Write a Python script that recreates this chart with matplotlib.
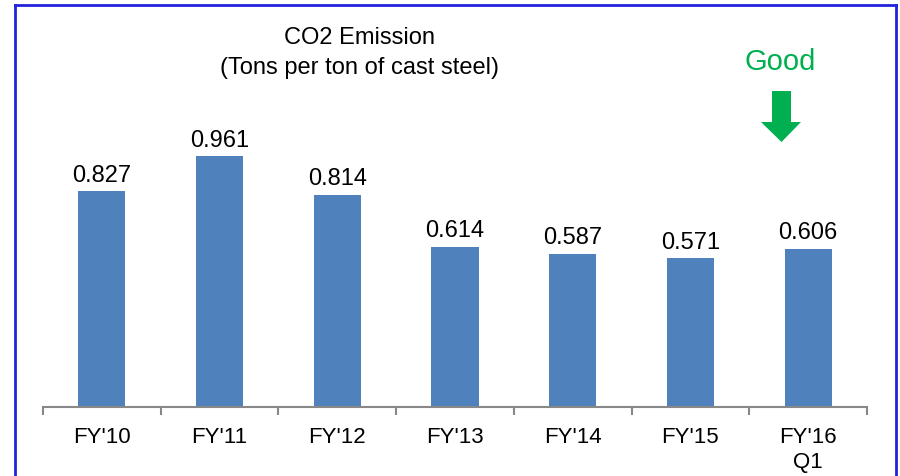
import matplotlib
matplotlib.use("Agg")
import matplotlib.pyplot as plt
from matplotlib.lines import Line2D
from matplotlib.patches import Polygon

# Data
categories = ["FY'10", "FY'11", "FY'12", "FY'13", "FY'14", "FY'15", "FY'16\nQ1"]
emission = [0.827, 0.961, 0.814, 0.614, 0.587, 0.571, 0.606]
value_labels = ["0.827", "0.961", "0.814", "0.614", "0.587", "0.571", "0.606"]

W, H = 900, 477
plt.rcParams['font.family'] = ['Liberation Sans', 'DejaVu Sans']


def px(x, y):
    # pixel position (from top-left) -> figure fraction
    return (x / W, 1 - y / H)


fig = plt.figure(figsize=(9, 4.77), dpi=100)
ax = fig.add_axes([43 / W, 1 - 408 / H, (867 - 43) / W, 313 / H])

x = list(range(len(categories)))
bars = ax.bar(x, emission, width=0.4, color='#4F81BD')
ax.set_xlim(-0.5, len(categories) - 0.5)
ax.set_ylim(0, 1.2)

for rect, lab in zip(bars, value_labels):
    ax.annotate(lab, (rect.get_x() + rect.get_width() / 2, rect.get_height()),
                xytext=(0, 4), textcoords='offset points',
                ha='center', va='bottom', fontsize=17)

ax.set_xticks(x)
ax.set_xticklabels(categories, fontsize=16, linespacing=1.25)
ax.set_xticks([i - 0.5 for i in range(len(categories) + 1)], minor=True)
ax.tick_params(axis='x', which='major', length=0, pad=14)
ax.tick_params(axis='x', which='minor', length=6, width=1.5, color='#888888')
ax.set_yticks([])
for s in ['top', 'right', 'left']:
    ax.spines[s].set_visible(False)
ax.spines['bottom'].set_color('#888888')
ax.spines['bottom'].set_linewidth(1.5)

# Title
fig.text(*px(360, 53), "CO2 Emission\n(Tons per ton of cast steel)",
         ha='center', va='center', fontsize=17, linespacing=1.45)

# "Good" marker with arrow
fig.text(*px(780, 62), "Good", ha='center', va='center', fontsize=21, color='#00B050')
arrow_pts = [px(772, 92), px(791, 92), px(791, 123), px(801, 123),
             px(781.5, 143), px(761, 123), px(772, 123)]
fig.add_artist(Polygon(arrow_pts, closed=True, transform=fig.transFigure,
                       facecolor='#00B050', edgecolor='none'))

# Blue frame
frame_kw = dict(transform=fig.transFigure, color='#2222DD', linewidth=2)
fig.add_artist(Line2D([15 / W, 896 / W], [1 - 6 / H, 1 - 6 / H], **frame_kw))
fig.add_artist(Line2D([15 / W, 15 / W], [1 - 6 / H, 0], **frame_kw))
fig.add_artist(Line2D([896 / W, 896 / W], [1 - 6 / H, 0], **frame_kw))

fig.savefig("out.png", dpi=100)
